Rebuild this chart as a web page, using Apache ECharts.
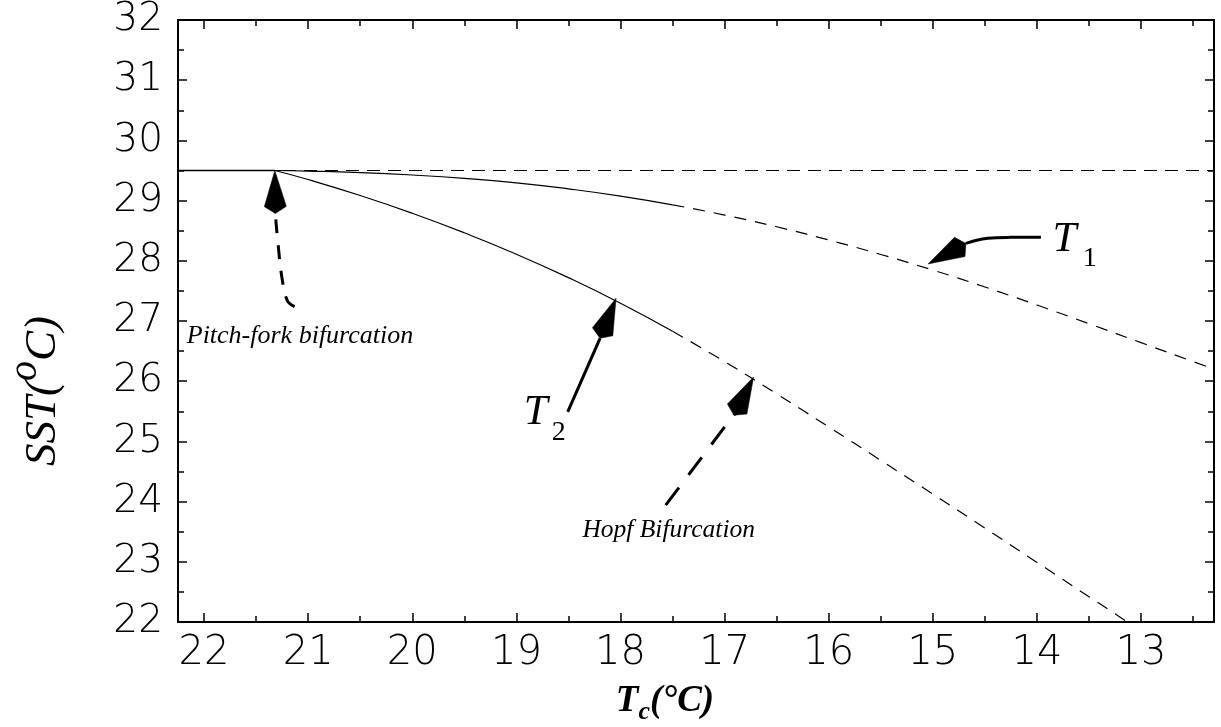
<!DOCTYPE html>
<html><head><meta charset="utf-8">
<script src="https://cdn.jsdelivr.net/npm/echarts@6/dist/echarts.min.js"></script>
<style>html,body{margin:0;padding:0;background:#fff}#c{width:1221px;height:727px}</style>
</head><body><div id="c"></div>
<script>
// ---------------- data ----------------
const tcT1  = [21.32, 21.0, 20.5, 20.0, 19.5, 19.0, 18.5, 18.0, 17.5, 17.0, 16.5, 16.0, 15.5, 15.0, 14.5, 14.0, 13.5, 13.0, 12.5, 12.3];
const sstT1 = [29.50, 29.49, 29.465, 29.425, 29.37, 29.295, 29.195, 29.075, 28.93, 28.76, 28.565, 28.345, 28.105, 27.845, 27.565, 27.265, 26.955, 26.64, 26.325, 26.20];
const tcT2  = [21.32, 21.0, 20.5, 20.0, 19.5, 19.0, 18.5, 18.0, 17.5, 17.0, 16.5, 16.0, 15.5, 15.0, 14.5, 14.0, 13.5, 13.0];
const sstT2 = [29.50, 29.35, 29.085, 28.79, 28.465, 28.11, 27.72, 27.295, 26.83, 26.325, 25.79, 25.24, 24.685, 24.125, 23.56, 22.99, 22.42, 21.85];
const tcBase = [22.25, 21.32, 12.3];
const sstBase = [29.5, 29.5, 29.5];
const stableLimitTc = 17.5;      // solid (stable) for Tc >= this, dashed below
const pitchforkTc = 21.32;

const xMin = 12.3, xMax = 22.25, yMin = 22, yMax = 32;
const xMajorTicks = [13, 14, 15, 16, 17, 18, 19, 20, 21, 22];
const xMinorTicks = [12.5, 13.5, 14.5, 15.5, 16.5, 17.5, 18.5, 19.5, 20.5, 21.5];

// annotation arrows (data coordinates)
const arrowPitchTc  = [21.13, 21.20, 21.25, 21.29, 21.314];
const arrowPitchSst = [27.24, 27.34, 27.70, 28.30, 28.75];
const arrowPitchTip = [21.32, 29.5];
const arrowT2Tc  = [18.507, 18.20];
const arrowT2Sst = [25.49, 26.70];
const arrowT2Tip = [18.043, 27.376];
const arrowHopfTc  = [17.566, 16.90];
const arrowHopfSst = [23.94, 25.47];
const arrowHopfTip = [16.722, 26.07];
const arrowT1Tc  = [13.962, 14.249, 14.472, 14.599, 14.679];
const arrowT1Sst = [28.39, 28.39, 28.374, 28.334, 28.29];
const arrowT1Tip = [15.046, 27.947];

// annotation texts
const noteTexts = ['Pitch-fork bifurcation', 'Hopf Bifurcation'];
const noteTc  = [22.166, 18.366];
const noteSst = [26.741, 23.52];
const branchNames = ['T', 'T'];
const branchSubs  = ['1', '2'];
const branchTc    = [13.85, 18.93];
const branchSst   = [28.35, 25.47];
const branchSubTc = [13.56, 18.66];
const branchSubSst= [28.028, 25.148];

// ---------------- build ----------------
function pairs(xs, ys, keep) {
  const out = [];
  xs.forEach((x, i) => { if (!keep || keep(x)) out.push([x, ys[i]]); });
  return out;
}
const stable = x => x >= stableLimitTc;
const unstable = x => x <= stableLimitTc;

const arrows = [
  {tc: arrowPitchTc, sst: arrowPitchSst, tip: arrowPitchTip, dash: [14, 12], smooth: 0.4},
  {tc: arrowT2Tc, sst: arrowT2Sst, tip: arrowT2Tip, dash: null, smooth: 0},
  {tc: arrowHopfTc, sst: arrowHopfSst, tip: arrowHopfTip, dash: [22, 16], smooth: 0},
  {tc: arrowT1Tc, sst: arrowT1Sst, tip: arrowT1Tip, dash: null, smooth: 0.4}
];

const serif = 'Liberation Serif';
const tickFont = 'DejaVu Sans';

function renderArrow(params, api) {
  const a = arrows[params.dataIndex];
  const pts = a.tc.map((t, i) => api.coord([t, a.sst[i]]));
  const tip = api.coord(a.tip);
  const last = pts[pts.length - 1];
  let dx = tip[0] - last[0], dy = tip[1] - last[1];
  const len = Math.hypot(dx, dy); dx /= len; dy /= len;
  const L = 43, C = 36, W = 11;
  const nx = -dy, ny = dx;
  const back = [tip[0] - dx * L, tip[1] - dy * L];
  const s1 = [tip[0] - dx * C + nx * W, tip[1] - dy * C + ny * W];
  const s2 = [tip[0] - dx * C - nx * W, tip[1] - dy * C - ny * W];
  return {
    type: 'group',
    children: [
      {type: 'polyline', shape: {points: pts.concat([back]), smooth: a.smooth},
       style: {stroke: '#000', lineWidth: 3, fill: null, lineDash: a.dash}},
      {type: 'polygon', shape: {points: [tip, s1, back, s2]}, style: {fill: '#000', stroke: '#000', lineWidth: 0.5}}
    ]
  };
}

function renderTexts(params, api) {
  const children = [];
  const noteSizes = [26, 25.5];
  noteTexts.forEach((t, i) => {
    const p = api.coord([noteTc[i], noteSst[i]]);
    children.push({type: 'text', x: p[0], y: p[1], style: {text: t, fontFamily: serif, fontStyle: 'italic', fontSize: noteSizes[i], fill: '#000', align: 'left', verticalAlign: 'middle'}});
  });
  branchNames.forEach((t, i) => {
    const p = api.coord([branchTc[i], branchSst[i]]);
    children.push({type: 'text', x: p[0], y: p[1], style: {text: t, fontFamily: serif, fontStyle: 'italic', fontSize: 43, fill: '#000', align: 'left', verticalAlign: 'middle'}});
    const q = api.coord([branchSubTc[i], branchSubSst[i]]);
    children.push({type: 'text', x: q[0], y: q[1], style: {text: branchSubs[i], fontFamily: serif, fontSize: 28, fill: '#000', align: 'left', verticalAlign: 'middle'}});
  });
  return {type: 'group', children};
}

const axisLineStyle = {color: '#000', width: 2};
function xAxisDef(position, ticks, len, withLine, withLabel) {
  return {
    type: 'value', position, min: xMin, max: xMax, inverse: true,
    splitLine: {show: false},
    axisLine: {show: withLine, onZero: false, lineStyle: axisLineStyle},
    axisTick: {show: true, inside: true, length: len, customValues: ticks, lineStyle: {color: '#000', width: 1.5}},
    axisLabel: withLabel ? {show: true, customValues: ticks, fontFamily: tickFont, fontWeight: 200, fontSize: 40, color: '#000', margin: 12}
                         : {show: false},
  };
}
function yAxisDef(position, withLabel) {
  return {
    type: 'value', position, min: yMin, max: yMax, interval: 1,
    splitLine: {show: false},
    axisLine: {show: true, onZero: false, lineStyle: axisLineStyle},
    axisTick: {show: true, inside: true, length: 9, lineStyle: {color: '#000', width: 1.5}},
    minorTick: {show: true, splitNumber: 2, length: 6, lineStyle: {color: '#000', width: 1.5}},
    minorSplitLine: {show: false},
    axisLabel: withLabel ? {show: true, fontFamily: tickFont, fontWeight: 200, fontSize: 39, color: '#000', margin: 15}
                         : {show: false}
  };
}

const xAxes = [
  xAxisDef('bottom', xMajorTicks, 9, true, true),
  xAxisDef('top', xMajorTicks, 9, true, false),
  xAxisDef('bottom', xMinorTicks, 6, false, false),
  xAxisDef('top', xMinorTicks, 6, false, false)
];
Object.assign(xAxes[0], {
  name: '{b|T}{s|c}{b|(°C)}', nameLocation: 'middle', nameGap: 57,
  nameTextStyle: {padding: [0, 62, 0, 0], rich: {
    b: {fontFamily: serif, fontStyle: 'italic', fontWeight: 'bold', fontSize: 37, color: '#000', lineHeight: 40},
    s: {fontFamily: serif, fontStyle: 'italic', fontWeight: 'bold', fontSize: 26, color: '#000', lineHeight: 40, padding: [20, 0, 0, 0]}
  }}
});
const yAxes = [yAxisDef('left', true), yAxisDef('right', false)];
Object.assign(yAxes[0], {
  name: '{i|SST(}{o|o}{i|C)}', nameLocation: 'middle', nameGap: 110, nameRotate: 90,
  nameTextStyle: {padding: [0, 140, 0, 0], rich: {
    i: {fontFamily: serif, fontStyle: 'italic', fontSize: 45, color: '#000', lineHeight: 50},
    o: {fontFamily: serif, fontStyle: 'italic', fontSize: 40, color: '#000', lineHeight: 50, padding: [0, 0, 36, 0]}
  }}
});

const thin = {color: '#000', width: 1.2};
const option = {
  backgroundColor: '#fff',
  animation: false,
  grid: {left: 178, right: 7, top: 20, bottom: 105, containLabel: false, outerBoundsMode: 'none'},
  xAxis: xAxes,
  yAxis: yAxes,
  series: [
    {type: 'line', name: 'base stable', data: pairs(tcBase, sstBase, x => x >= pitchforkTc), showSymbol: false, lineStyle: {...thin, width: 1.6}},
    {type: 'line', name: 'base unstable', data: pairs(tcBase, sstBase), showSymbol: false, lineStyle: {...thin, type: [13, 8]}},
    {type: 'line', name: 'T1 stable', data: pairs(tcT1, sstT1, stable), smooth: 0.5, showSymbol: false, lineStyle: thin},
    {type: 'line', name: 'T1 unstable', data: pairs(tcT1, sstT1, unstable), smooth: 0.5, showSymbol: false, lineStyle: {...thin, type: [12, 9]}},
    {type: 'line', name: 'T2 stable', data: pairs(tcT2, sstT2, stable), smooth: 0.5, showSymbol: false, lineStyle: thin},
    {type: 'line', name: 'T2 unstable', data: pairs(tcT2, sstT2, unstable), smooth: 0.5, showSymbol: false, lineStyle: {...thin, type: [12, 9]}, clip: true},
    {type: 'custom', name: 'arrows', renderItem: renderArrow, data: arrows.map(a => a.tip), silent: true, z: 5},
    {type: 'custom', name: 'texts', renderItem: renderTexts, data: [[noteTc[0], noteSst[0]]], silent: true, z: 6}
  ]
};
const chart = echarts.init(document.getElementById('c'), null, {renderer: 'canvas'});
chart.setOption(option);
</script>
</body></html>
